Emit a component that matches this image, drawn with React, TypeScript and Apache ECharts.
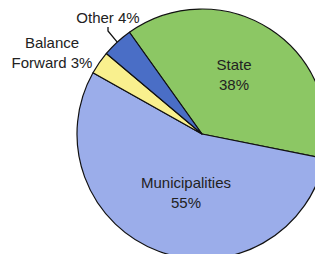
import React, { useEffect, useRef } from "react";
import * as echarts from "echarts";

const categories = ["State", "Municipalities", "Balance Forward", "Other"];
const values = [38, 55, 3, 4];
const colors = ["#8cc764", "#9badea", "#f9f08e", "#4a6ec6"];
const labelTexts = ["State\n38%", "Municipalities\n55%", "Balance\nForward 3%", "Other 4%"];

const labelPos: [number, number][] = [
  [234, 74],
  [186, 192],
  [52, 52],
  [108, 17],
];

export default function App() {
  const ref = useRef<HTMLDivElement>(null);
  useEffect(() => {
    document.body.style.margin = "0";
    const chart = echarts.init(ref.current!, null, { renderer: "svg" });
    chart.setOption({
      animation: false,
      backgroundColor: "#ffffff",
      series: [
        {
          type: "pie",
          center: [202, 134],
          radius: 125,
          startAngle: 125.5,
          clockwise: true,
          avoidLabelOverlap: false,
          itemStyle: { borderColor: "#111", borderWidth: 1.2 },
          label: {
            color: "#222222",
            fontFamily: "Liberation Sans, Arial, sans-serif",
            fontSize: 15,
            lineHeight: 20,
            align: "center",
          },
          labelLine: {
            show: true,
            length: 10,
            length2: 4,
            minTurnAngle: 0,
            lineStyle: { color: "#111", width: 1.3 },
          },
          labelLayout: (p: any) => {
            const pos = labelPos[p.dataIndex];
            if (!pos) return {};
            return { x: pos[0], y: pos[1], align: "center", verticalAlign: "middle" };
          },
          data: categories.map((c, i) => ({
            name: c,
            value: values[i],
            itemStyle: { color: colors[i] },
            label: {
              show: true,
              formatter: labelTexts[i],
              position: i < 2 ? "inside" : "outside",
            },
            labelLine: i === 3 ? {} : { show: false },
          })),
        },
      ],
    });
    return () => chart.dispose();
  }, []);
  return (
    <div
      ref={ref}
      style={{ position: "fixed", left: 0, top: 0, width: 315, height: 254 }}
    />
  );
}
